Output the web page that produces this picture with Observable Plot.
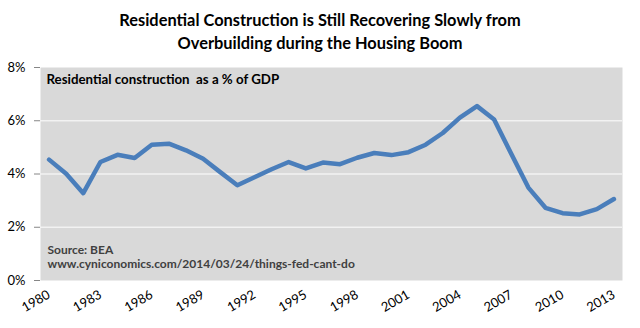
<!DOCTYPE html>
<html><head><meta charset="utf-8">
<script src="https://cdn.jsdelivr.net/npm/d3@7"></script>
<script src="https://cdn.jsdelivr.net/npm/@observablehq/plot@0.6"></script>
<style>
body{margin:0;background:#fff;font-family:Lato,sans-serif;}
#title{height:58px;box-sizing:border-box;padding-top:8px;text-align:center;font-weight:bold;font-size:16.4px;line-height:23px;color:#000;}
</style></head><body>
<div id="title">Residential Construction is Still Recovering Slowly from<br>Overbuilding during the Housing Boom</div>
<div id="chart"></div>
<script>
const years = [1980,1981,1982,1983,1984,1985,1986,1987,1988,1989,1990,1991,1992,1993,1994,1995,1996,1997,1998,1999,2000,2001,2002,2003,2004,2005,2006,2007,2008,2009,2010,2011,2012,2013];
const values = [4.54,4.01,3.28,4.45,4.72,4.60,5.10,5.14,4.89,4.57,4.07,3.58,3.88,4.18,4.45,4.21,4.43,4.37,4.61,4.79,4.71,4.82,5.10,5.54,6.12,6.55,6.05,4.76,3.49,2.73,2.53,2.48,2.68,3.06];
const xTicks = [1980,1983,1986,1989,1992,1995,1998,2001,2004,2007,2010,2013];
const yTicks = [0,2,4,6,8];
const subtitle = "Residential construction  as a % of GDP";
const source1 = "Source: BEA";
const source2 = "www.cyniconomics.com/2014/03/24/things-fed-cant-do";
const data = years.map((y, i) => ({year: y, value: values[i]}));

const chart = Plot.plot({
  width: 640, height: 270,
  marginTop: 9, marginBottom: 48, marginLeft: 40, marginRight: 18,
  style: {fontFamily: "Lato, sans-serif", fontSize: "12px", color: "#000", background: "#fff"},
  x: {domain: [1979.5, 2013.5], label: null},
  y: {domain: [0, 8], label: null},
  marks: [
    Plot.frame({fill: "#d9d9d9", stroke: null}),
    Plot.gridY(yTicks.filter(d => d > 0 && d < 8), {stroke: "#f2f2f2", strokeOpacity: 1, strokeWidth: 1.5}),
    Plot.axisY({ticks: yTicks, tickFormat: d => d + "%", tickSize: 6, tickPadding: 9, stroke: "#868686", fontSize: 13, label: null}),
    Plot.axisX({ticks: xTicks, tickFormat: d => String(d), tickRotate: -30, tickSize: 0, tickPadding: 13, fontSize: 13, label: null}),
    Plot.line(data, {x: "year", y: "value", stroke: "#4a7ebb", strokeWidth: 4.5, curve: "linear"}),
    Plot.text([subtitle], {frameAnchor: "top-left", dx: 6, dy: 12, lineAnchor: "middle", text: d => d, fontWeight: "bold", fontSize: 13.3, fill: "#000"}),
    Plot.text([source1], {frameAnchor: "bottom-left", dx: 7, dy: -30, lineAnchor: "middle", text: d => d, fontWeight: "bold", fontSize: 12, fill: "#404040"}),
    Plot.text([source2], {frameAnchor: "bottom-left", dx: 7, dy: -16, lineAnchor: "middle", text: d => d, fontWeight: "bold", fontSize: 12, fill: "#404040"})
  ]
});
document.getElementById("chart").append(chart);
</script>
</body></html>
